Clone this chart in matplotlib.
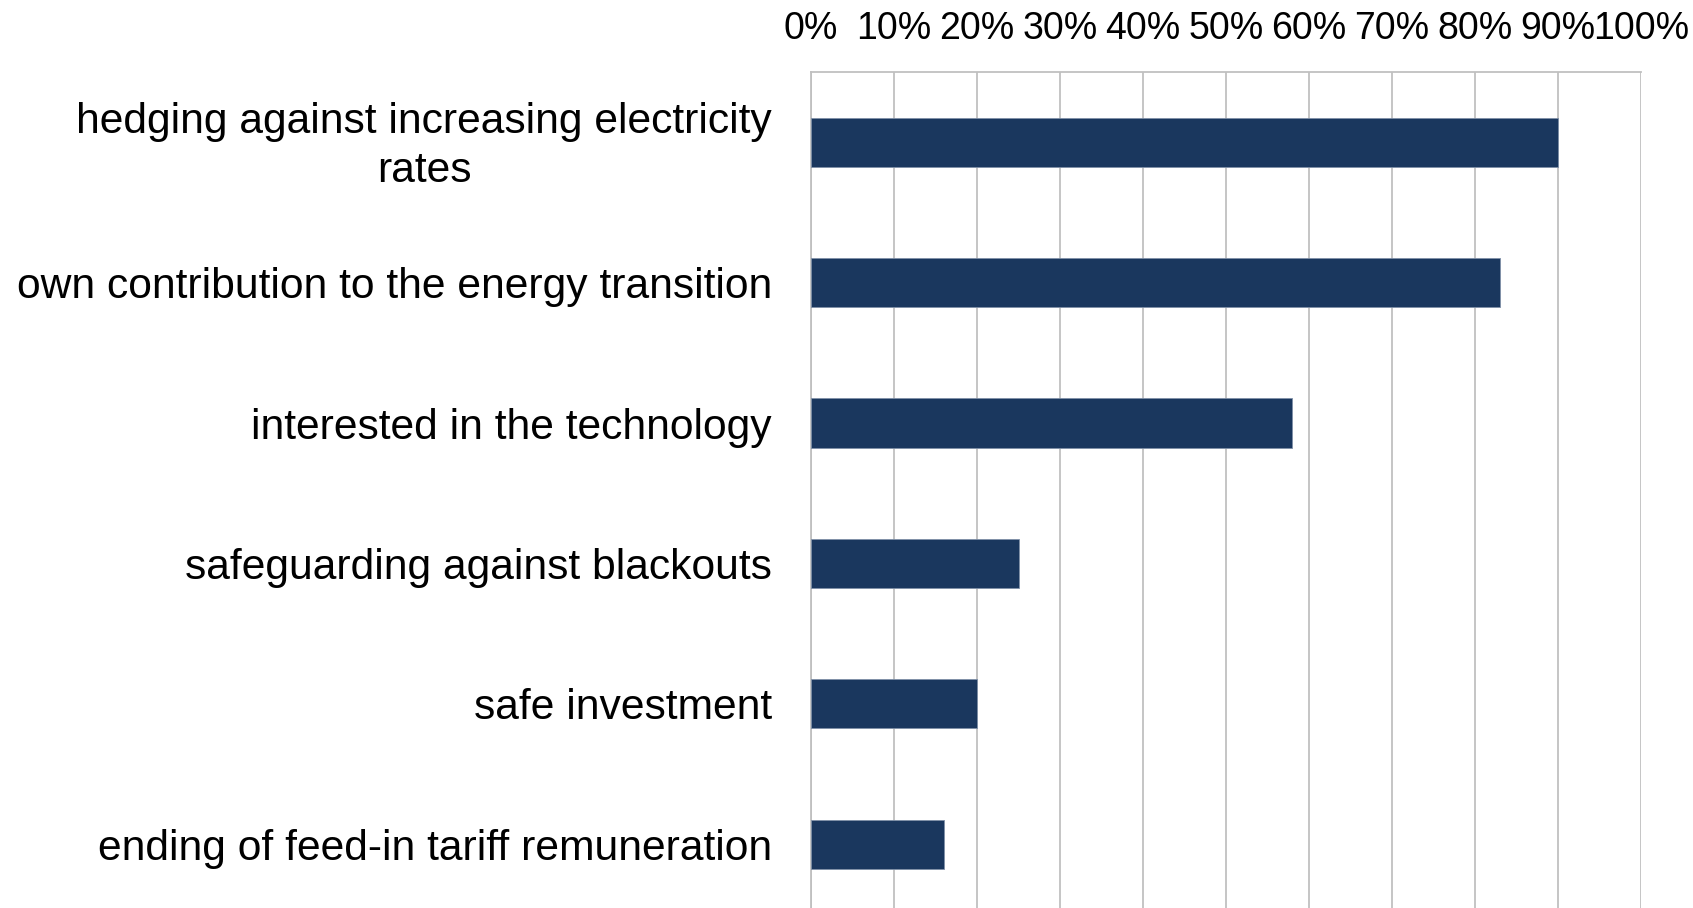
import numpy as np
import matplotlib
matplotlib.use('Agg')
import matplotlib.pyplot as plt
from matplotlib.transforms import ScaledTranslation

# survey answers, top to bottom
reasons = ['hedging against increasing electricity\nrates',
           'own contribution to the energy transition',
           'interested in the technology',
           'safeguarding against blackouts',
           'safe investment',
           'ending of feed-in tariff remuneration']
share = [90, 83, 58, 25, 20, 16]  # percent
ticks = [0, 10, 20, 30, 40, 50, 60, 70, 80, 90, 100]

bar_col = '#1a375e'
grid_col = '#c0c0c0'

plt.rcParams['font.family'] = ['Liberation Sans', 'DejaVu Sans']

fig = plt.figure(figsize=(16.93, 9.08), dpi=100)
ax = fig.add_axes([811/1693, 0.0, (1641-811)/1693, 1 - 72/908])

y = np.arange(len(reasons))
ax.barh(y, share, height=0.35, color=bar_col, edgecolor='#7f90a8', linewidth=0.6, zorder=3)

ax.set_xlim(0, 100)
ax.set_ylim(5.454, -0.5)
ax.set_xticks(ticks)
ax.set_xticklabels([f'{t}%' for t in ticks])
ax.xaxis.tick_top()
ax.tick_params(axis='x', length=0, pad=18, labelsize=27)
ax.set_yticks(y)
ax.set_yticklabels(reasons, multialignment='center', linespacing=1.3)
ax.tick_params(axis='y', length=0, pad=28, labelsize=30.7)
# two-line label: centre it and push it down a few pixels
lab0 = ax.get_yticklabels()[0]
lab0.set_verticalalignment('center')
lab0.set_transform(lab0.get_transform() + ScaledTranslation(0, -0.045, fig.dpi_scale_trans))

ax.grid(axis='x', color=grid_col, linewidth=1.3, zorder=0)
for s in ['right', 'bottom']:
    ax.spines[s].set_visible(False)
for s in ['top', 'left']:
    ax.spines[s].set_color(grid_col)
    ax.spines[s].set_linewidth(1.3)

fig.savefig('out.png', dpi=100)
